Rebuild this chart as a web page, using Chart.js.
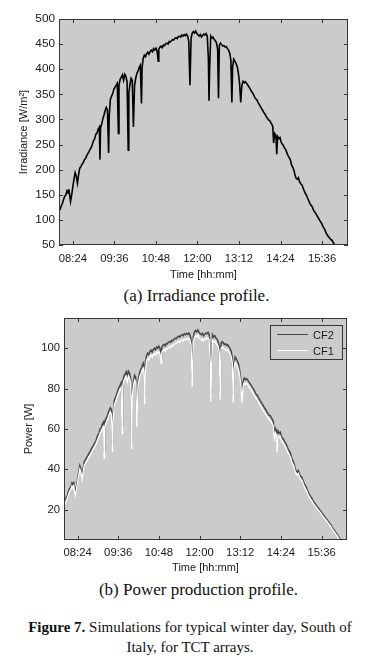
<!DOCTYPE html>
<html>
<head>
<meta charset="utf-8">
<script src="https://cdn.jsdelivr.net/npm/chart.js@4.4.1/dist/chart.umd.min.js"></script>
<style>
html,body{margin:0;padding:0;background:#fff;}
body{width:383px;height:669px;overflow:hidden;position:relative;}
.wrap{position:absolute;left:0;width:383px;}
.cap{position:absolute;width:383px;text-align:center;font-family:"Liberation Serif","Times New Roman",serif;color:#111;white-space:nowrap;}
</style>
</head>
<body>
<div class="wrap" style="top:0;height:285px"><canvas id="c1"></canvas></div>
<div class="cap" style="left:5px;top:285.7px;font-size:17px;line-height:20px">(a) Irradiance profile.</div>
<div class="wrap" style="top:300px;height:280px"><canvas id="c2"></canvas></div>
<div class="cap" style="left:7px;top:580px;font-size:17px;line-height:20px">(b) Power production profile.</div>
<div class="cap" style="left:-1.5px;top:618px;font-size:15px;line-height:19.6px"><b>Figure 7.</b> Simulations for typical winter day, South of<br>Italy, for TCT arrays.</div>
<script>
// ---- data ----
const tickTimes = [504, 576, 648, 720, 792, 864, 936];
const tickLabels = ['08:24', '09:36', '10:48', '12:00', '13:12', '14:24', '15:36'];
const irrTicks = [50, 100, 150, 200, 250, 300, 350, 400, 450, 500];
const powerTicks = [20, 40, 60, 80, 100];
const seriesNames = ['CF2', 'CF1'];

// time in minutes from midnight
const times = [
480,482,484,486,488,490,492,494,496,497,
499,500,502,504,506,508,510,512,514,516,
518,520,522,524,526,528,530,532,534,536,
538,540,542,544,546,548,550,551,552,554,
556,558,560,562,564,566,567,569,571,573,
575,577,579,581,583,584,586,588,590,592,
594,596,598,600,601,603,605,607,609,611,
613,615,617,619,621,623,624,626,628,630,
632,634,636,638,640,642,644,646,648,650,
652,653,655,657,659,661,663,665,667,669,
671,673,675,677,679,681,683,685,687,689,
691,693,695,697,699,701,703,705,707,709,
711,713,715,717,719,721,723,725,727,729,
731,733,735,737,739,740,741,743,745,747,
749,751,753,755,756.5,758,760,762,764,766,
768,770,772,774,776,778,779.7,781,783,785,
787,789,791,793,795,797,799,801,803,805,
807,809,811,813,815,817,819,821,823,825,
827,829,831,833,835,837,839,841,843,845,
847,849,850.6,852,854,856,857.5,859,861,863,
865,867,869,871,873,875,877,879,881,883,
885,887,889,891,893,895,897,899,901,903,
905,907,909,911,913,915,917,919,921,923,
925,927,929,931,933,935,937,939,941,943,
945,947,949,951,953,955,957,959,961,963,
965,967,969,971
];

const irradiance = [
118,121,128,133,141,147,150,158,153,161,
146,137,150,166,181,194,187,173,190,203,
206,211,214,220,222,228,232,236,241,244,
251,258,262,271,273,281,285,220,283,291,
301,309,318,324,318,233,306,340,346,351,
360,364,368,372,272,368,380,384,389,378,
390,386,375,239,352,370,382,378,285,368,
382,392,396,404,408,332,402,422,428,425,
431,434,430,435,438,435,441,438,442,437,
416,440,444,446,443,448,447,451,452,450,
455,454,457,459,458,462,463,461,465,466,
464,468,466,469,467,470,466,455,368,462,
472,475,472,476,471,468,466,469,464,467,
470,468,471,466,420,337,395,466,462,464,
459,457,452,440,342,448,452,449,446,447,
444,445,441,438,432,418,334,405,420,416,
411,405,392,372,334,368,376,373,375,372,
369,365,362,357,354,350,345,341,339,334,
330,326,322,318,314,311,306,303,299,298,
294,290,286,253,272,268,231,266,262,264,
255,251,248,243,240,234,228,224,220,210,
205,200,190,183,181,184,176,172,170,164,
158,153,149,143,138,133,129,126,120,116,
113,109,105,101,97,94,88,84,80,74,
70,67,64,61,60,56,52,49,46,43,
40,37,35,33
];

const powerCF2 = [
23.7,24.4,26.0,27.2,29.1,30.6,31.3,33.2,32.0,33.9,
30.3,28.2,31.3,35.1,38.7,41.8,40.1,36.8,40.8,43.9,
44.7,45.8,46.6,48.0,48.5,49.9,50.9,51.8,53.0,53.7,
55.4,57.1,58.0,60.2,60.6,62.5,63.5,49.0,63.0,64.9,
66.0,67.5,69.3,70.5,69.5,52.0,66.5,74.0,75.5,76.8,
79.0,80.2,81.5,82.8,61.5,83.3,86.2,87.1,88.3,85.7,
88.6,87.6,85.0,53.5,79.5,83.8,86.6,85.7,64.5,83.3,
86.6,89.0,90.0,91.9,92.8,75.7,91.4,96.2,97.6,96.9,
98.3,99.1,98.1,99.3,100.0,99.3,100.7,100.0,101.0,99.8,
95.5,100.5,101.4,101.9,101.2,102.4,102.2,103.1,103.3,102.9,
104.1,103.8,104.5,105.0,104.8,105.7,106.0,105.5,106.4,106.7,
106.2,107.2,106.7,107.4,106.9,107.6,106.7,104.1,85.0,105.7,
108.1,108.8,108.1,109.1,107.9,107.2,106.7,107.4,106.2,106.9,
107.6,107.2,107.9,106.7,95.7,77.5,89.7,106.7,105.7,106.2,
105.0,104.5,103.3,100.5,78.5,102.4,103.3,102.6,101.9,102.2,
101.4,101.7,100.7,100.0,98.6,95.2,77.0,92.1,95.7,94.8,
93.6,92.1,89.0,84.3,77.0,83.3,85.2,84.5,85.0,84.3,
83.5,82.6,81.9,80.7,80.0,79.0,77.8,76.9,76.4,75.2,
74.2,73.3,72.3,71.4,70.4,69.7,68.5,67.8,66.8,66.6,
65.6,64.7,63.7,57.0,60.4,59.4,52.0,59.0,58.0,58.5,
56.3,55.4,54.7,53.5,52.8,51.3,49.9,49.0,48.0,45.6,
44.4,43.2,40.8,39.2,38.7,39.4,37.5,36.5,36.1,34.6,
33.2,32.0,31.1,29.6,28.4,27.2,26.3,25.6,24.4,23.6,
22.9,22.0,21.3,20.6,19.9,19.2,18.3,17.5,16.8,16.0,
15.3,14.6,13.8,13.0,12.3,11.2,10.4,9.6,8.7,8.0,
7.1,6.3,5.4,4.6
];

const powerCF1 = [
22.3,23.0,24.5,25.8,27.6,29.2,29.8,31.7,30.6,32.4,
28.6,26.8,29.9,33.6,37.2,40.1,38.5,35.0,39.2,42.2,
43.0,44.0,44.8,46.3,46.6,48.1,49.0,49.9,51.1,51.8,
53.4,55.0,56.0,58.1,58.5,60.4,61.3,45.5,60.8,62.7,
63.8,65.3,67.1,68.3,67.3,48.6,64.3,71.8,73.3,74.6,
76.8,78.0,79.3,80.6,57.9,81.0,84.0,84.9,86.0,83.4,
86.3,85.3,82.6,50.0,77.0,81.5,84.3,83.4,61.0,81.0,
84.3,86.6,87.5,89.3,90.2,72.2,88.8,93.6,95.0,94.3,
95.7,96.5,95.5,96.7,97.4,96.7,98.1,97.4,98.4,97.2,
92.5,97.9,98.8,99.3,98.6,99.8,99.6,100.5,100.7,100.3,
101.5,101.2,101.9,102.4,102.2,103.1,103.4,102.9,103.8,104.1,
103.6,104.6,104.1,104.8,104.3,105.0,104.1,101.5,81.0,103.1,
105.5,106.2,105.5,106.5,105.3,104.6,104.1,104.8,103.6,104.3,
105.0,104.6,105.3,104.1,93.1,73.5,87.1,104.1,103.1,103.6,
102.4,101.9,100.7,97.9,74.5,99.8,100.7,100.0,99.3,99.6,
98.8,99.1,98.1,97.4,96.0,92.6,73.0,89.5,93.1,92.2,
91.0,89.5,86.4,82.0,73.0,81.0,82.9,82.2,82.7,82.0,
81.2,80.3,79.6,78.4,77.7,76.7,75.5,74.6,74.1,72.9,
71.9,71.0,70.0,69.1,68.1,67.4,66.2,65.5,64.5,64.3,
63.3,62.4,61.4,54.0,58.2,57.2,48.5,56.8,55.8,56.3,
54.2,53.3,52.6,51.5,50.8,49.3,47.9,47.1,46.1,43.8,
42.6,41.4,39.1,37.6,37.1,37.9,36.0,35.0,34.6,33.2,
31.8,30.6,29.7,28.2,27.0,25.9,25.0,24.3,23.1,22.4,
21.7,20.9,20.2,19.5,18.9,18.2,17.3,16.5,15.8,15.1,
14.4,13.7,12.9,12.2,11.5,10.4,9.6,8.8,8.0,7.3,
6.4,5.6,4.8,4.0
];

// ---- styling ----
const FONT = '"Liberation Sans", Arial, Helvetica, sans-serif';
const TEXT = '#1a1a1a';
const FRAME = '#363636';
const PLOTBG = '#cbcbcb';
const CF2COLOR = '#474747';
const CF1COLOR = '#ffffff';

const framePlugin = {
  id: 'frame',
  beforeDraw(chart) {
    const {ctx, chartArea: a} = chart;
    ctx.save();
    ctx.fillStyle = PLOTBG;
    ctx.fillRect(a.left, a.top, a.right - a.left, a.bottom - a.top);
    ctx.restore();
  },
  afterDraw(chart, args, opts) {
    const {ctx, chartArea: a} = chart;
    const xs = chart.scales.x, ys = chart.scales.y;
    ctx.save();
    ctx.strokeStyle = FRAME;
    ctx.lineWidth = 1;
    ctx.beginPath();
    const tl = 4;
    xs.ticks.forEach(t => {
      const px = Math.round(xs.getPixelForValue(t.value)) + 0.5;
      ctx.moveTo(px, a.bottom); ctx.lineTo(px, a.bottom - tl);
      ctx.moveTo(px, a.top); ctx.lineTo(px, a.top + tl);
    });
    ys.ticks.forEach(t => {
      const py = Math.round(ys.getPixelForValue(t.value)) + 0.5;
      ctx.moveTo(a.left, py); ctx.lineTo(a.left + tl, py);
      ctx.moveTo(a.right, py); ctx.lineTo(a.right - tl, py);
    });
    ctx.stroke();
    ctx.strokeRect(Math.round(a.left) + 0.5, Math.round(a.top) + 0.5,
                   Math.round(a.right - a.left) - 1, Math.round(a.bottom - a.top) - 1);
    if (opts && opts.legend) {
      const bx = Math.round(a.right) - 77, by = Math.round(a.top) + 7, bw = 72, bh = 34;
      ctx.fillStyle = PLOTBG;
      ctx.fillRect(bx, by, bw, bh);
      ctx.strokeStyle = FRAME;
      ctx.strokeRect(bx + 0.5, by + 0.5, bw, bh);
      const items = [
        {name: seriesNames[0], color: CF2COLOR, y: by + 9.5},
        {name: seriesNames[1], color: CF1COLOR, y: by + 25.5}
      ];
      ctx.font = '11px ' + FONT;
      ctx.textBaseline = 'middle';
      ctx.textAlign = 'left';
      items.forEach(it => {
        ctx.strokeStyle = it.color;
        ctx.lineWidth = 1;
        ctx.beginPath();
        ctx.moveTo(bx + 7, it.y); ctx.lineTo(bx + 38, it.y);
        ctx.stroke();
        ctx.fillStyle = TEXT;
        ctx.fillText(it.name, bx + 43, it.y + 1);
      });
    }
    ctx.restore();
  }
};

function xScaleCfg(tickSize, labelPad, titlePad) {
  return {
    type: 'linear', min: 480, max: 981,
    afterBuildTicks: s => { s.ticks = tickTimes.map(v => ({value: v})); },
    ticks: {
      autoSkip: false, maxRotation: 0, minRotation: 0, padding: labelPad, color: TEXT,
      font: {family: FONT, size: tickSize},
      callback: v => { const i = tickTimes.indexOf(v); return i >= 0 ? tickLabels[i] : ''; }
    },
    grid: {display: false, drawTicks: false},
    border: {display: false},
    title: {display: true, text: 'Time [hh:mm]', color: TEXT, font: {family: FONT, size: 11},
            padding: {top: 0, bottom: titlePad}},
    afterFit: s => { s.height = 40; }
  };
}

function yScaleCfg(min, max, tickVals, title, width, titlePad, tickSize) {
  return {
    type: 'linear', min: min, max: max,
    afterBuildTicks: s => { s.ticks = tickVals.map(v => ({value: v})); },
    ticks: {padding: 4, color: TEXT, font: {family: FONT, size: tickSize}},
    grid: {display: false, drawTicks: false},
    border: {display: false},
    title: {display: true, text: title, color: TEXT, font: {family: FONT, size: 11},
            padding: {top: titlePad, bottom: 0}},
    afterFit: s => { s.width = width; }
  };
}

const pts = arr => times.map((t, i) => ({x: t, y: arr[i]}));

new Chart(document.getElementById('c1'), {
  type: 'line',
  data: {
    datasets: [{
      data: pts(irradiance), borderColor: '#000', borderWidth: 1.6,
      pointRadius: 0, tension: 0, fill: false, clip: 0
    }]
  },
  options: {
    responsive: true, maintainAspectRatio: false, animation: false,
    layout: {padding: {top: 19, right: 35, left: 0, bottom: 0}},
    plugins: {legend: {display: false}, tooltip: {enabled: false}, frame: {legend: false}},
    scales: {
      x: xScaleCfg(11.3, 7, 3.4),
      y: yScaleCfg(50, 500, irrTicks, 'Irradiance [W/m\u00B2]', 59, 17.4, 11.8)
    }
  },
  plugins: [framePlugin]
});

new Chart(document.getElementById('c2'), {
  type: 'line',
  data: {
    datasets: [
      {label: seriesNames[1], data: pts(powerCF1), borderColor: CF1COLOR, borderWidth: 1.3,
       pointRadius: 0, tension: 0, fill: false, clip: 0},
      {label: seriesNames[0], data: pts(powerCF2), borderColor: CF2COLOR, borderWidth: 1.5,
       pointRadius: 0, tension: 0, fill: false, clip: 0}
    ]
  },
  options: {
    responsive: true, maintainAspectRatio: false, animation: false,
    layout: {padding: {top: 18, right: 36, left: 0, bottom: 0}},
    plugins: {legend: {display: false}, tooltip: {enabled: false}, frame: {legend: true}},
    scales: {
      x: xScaleCfg(11.3, 6, 5.4),
      y: yScaleCfg(5, 115, powerTicks, 'Power [W]', 64, 22.4, 11.3)
    }
  },
  plugins: [framePlugin]
});
</script>
</body>
</html>
